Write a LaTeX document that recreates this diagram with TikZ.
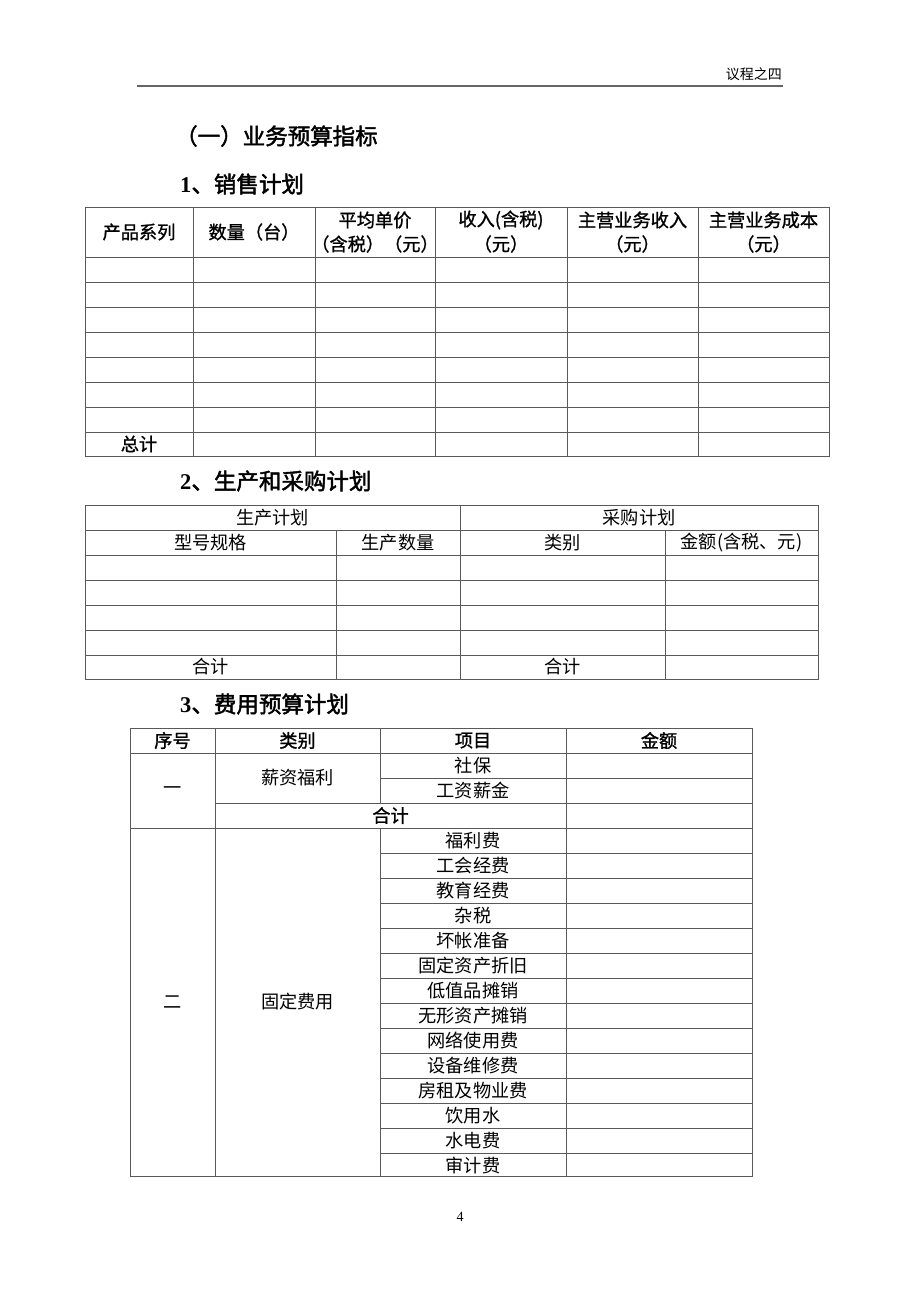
\documentclass[tikz,border=0pt]{standalone}
\usepackage{fontspec}
\setmainfont{Liberation Serif}
\newfontfamily\cjk{Noto Sans CJK SC}
\newfontfamily\cjkm[FakeBold=1.2]{Noto Sans CJK SC}
\newfontfamily\cjkb[FakeBold=2]{Noto Sans CJK SC}
\begin{document}
\begin{tikzpicture}[x=1pt,y=-1pt,
  grid/.style={draw=black!65,line width=0.9pt},
  tt/.style={inner sep=0pt,font=\fontsize{18.2}{20}\selectfont\cjk},
  tb/.style={inner sep=0pt,font=\fontsize{18.2}{20}\selectfont\cjkm},
  title/.style={inner sep=0pt,anchor=west,font=\fontsize{22.5}{24}\selectfont\cjkb}]
\useasboundingbox[fill=white] (0,0) rectangle (920,1302);
% header
\node[inner sep=0pt,anchor=east,font=\fontsize{14}{16}\selectfont\cjk] (hdr) at (782,74) {议程之四};
\coordinate (hl) at (137,86);
\coordinate (hr) at (783,86);
\draw[draw=black!60,line width=1.8pt] (hl) -- (hr);
% titles
\node[title] (t0) at (175,136) {（一）业务预算指标};
\node[title] (t1) at (180,184) {{\rmfamily\bfseries 1}、销售计划};
\node[title] (t2) at (180,481) {{\rmfamily\bfseries 2}、生产和采购计划};
\node[title] (t3) at (180,704) {{\rmfamily\bfseries 3}、费用预算计划};
% ---------- Table 1
\draw[grid] (85,207) rectangle (829,456);
\foreach \y in {257,282,307,332,357,382,407,432} \draw[grid] (85,\y) -- (829,\y);
\foreach \x in {193,315,435,567,698} \draw[grid] (\x,207) -- (\x,456);
\node[tb] (a1) at (139,232) {产品系列};
\node[tb] (a2) at (254,232) {数量（台）};
\node[tb] (a3) at (375,220) {平均单价};
\node[tb] (a3b) at (375,244) {（含税）（元）};
\node[tb] (a4) at (501,220) {收入(含税)};
\node[tb] (a4b) at (501,244) {（元）};
\node[tb] (a5) at (632.5,220) {主营业务收入};
\node[tb] (a5b) at (632.5,244) {（元）};
\node[tb] (a6) at (763.5,220) {主营业务成本};
\node[tb] (a6b) at (763.5,244) {（元）};
\node[tb] (a7) at (139,444) {总计};
% ---------- Table 2
\draw[grid] (85,505) rectangle (818,679);
\foreach \y in {530,555,580,605,630,655} \draw[grid] (85,\y) -- (818,\y);
\draw[grid] (460,505) -- (460,679);
\foreach \x in {336,665} \draw[grid] (\x,530) -- (\x,679);
\node[tt] (b1) at (272.5,517.5) {生产计划};
\node[tt] (b2) at (639,517.5) {采购计划};
\node[tt] (b3) at (210.5,542.5) {型号规格};
\node[tt] (b4) at (398,542.5) {生产数量};
\node[tt] (b5) at (562.5,542.5) {类别};
\node[tt] (b6) at (741.5,542.5) {金额(含税、元)};
\node[tt] (b7) at (210.5,667) {合计};
\node[tt] (b8) at (562.5,667) {合计};
% ---------- Table 3
\draw[grid] (130,728) rectangle (752,1176);
\foreach \y in {753,828} \draw[grid] (130,\y) -- (752,\y);
\draw[grid] (380,778) -- (752,778);
\draw[grid] (215,803) -- (752,803);
\foreach \y in {853,878,...,1153} \draw[grid] (380,\y) -- (752,\y);
\draw[grid] (215,728) -- (215,1176);
\draw[grid] (566,728) -- (566,1176);
\draw[grid] (380,728) -- (380,803);
\draw[grid] (380,828) -- (380,1176);
\node[tb] (c1) at (172.5,740.5) {序号};
\node[tb] (c2) at (297.5,740.5) {类别};
\node[tb] (c3) at (473,740.5) {项目};
\node[tb] (c4) at (659,740.5) {金额};
\node[tt] (g1) at (172.5,790.5) {一};
\node[tt] (g1c) at (297.5,778) {薪资福利};
\node[tt] (i1) at (473,765.5) {社保};
\node[tt] (i2) at (473,790.5) {工资薪金};
\node[tb] (s1) at (390.5,815.5) {合计};
\node[tt] (g2) at (172.5,1002) {二};
\node[tt] (g2c) at (297.5,1002) {固定费用};
\foreach \t [count=\i from 0] in {福利费,工会经费,教育经费,杂税,坏帐准备,固定资产折旧,低值品摊销,无形资产摊销,网络使用费,设备维修费,房租及物业费,饮用水,水电费,审计费}
  \node[tt] (j\i) at (473,840.5+25*\i) {\t};
% page number
\node[inner sep=0pt,font=\fontsize{14}{16}\selectfont] (pg) at (460,1217) {4};
\end{tikzpicture}
\end{document}
